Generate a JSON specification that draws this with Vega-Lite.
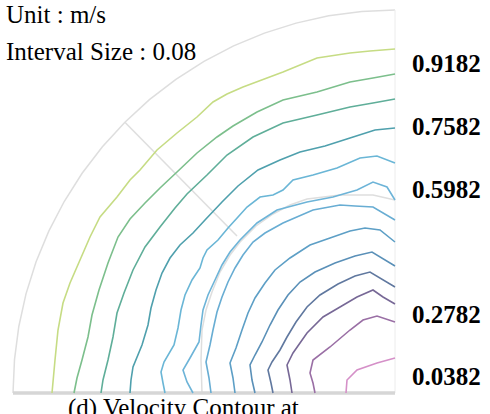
{
  "$schema": "https://vega.github.io/schema/vega-lite/v6.json",
  "width": 382,
  "height": 383,
  "autosize": "none",
  "padding": {"left": 13, "top": 10, "right": 95, "bottom": 21},
  "background": "white",
  "config": {"view": {"stroke": null}},
  "datasets": {
    "grid": [
      {"g":"outer","i":0,"x":13,"y":393},{"g":"outer","i":1,"x":14.5,"y":359.6},{"g":"outer","i":2,"x":18.8,"y":326.5},{"g":"outer","i":3,"x":26,"y":293.9},{"g":"outer","i":4,"x":36,"y":262},{"g":"outer","i":5,"x":48.8,"y":231.1},{"g":"outer","i":6,"x":64.2,"y":201.5},{"g":"outer","i":7,"x":82.1,"y":173.3},{"g":"outer","i":8,"x":102.4,"y":146.8},{"g":"outer","i":9,"x":124.9,"y":122.2},{"g":"outer","i":10,"x":149.4,"y":99.6},{"g":"outer","i":11,"x":175.9,"y":79.3},{"g":"outer","i":12,"x":204,"y":61.3},{"g":"outer","i":13,"x":233.6,"y":45.9},{"g":"outer","i":14,"x":264.4,"y":33.1},{"g":"outer","i":15,"x":296.1,"y":23.1},{"g":"outer","i":16,"x":328.7,"y":15.8},{"g":"outer","i":17,"x":361.7,"y":11.5},{"g":"outer","i":18,"x":395,"y":10},
      {"g":"inner","i":0,"x":202,"y":393},{"g":"inner","i":1,"x":201,"y":360},{"g":"inner","i":2,"x":202,"y":330},{"g":"inner","i":3,"x":206,"y":310},{"g":"inner","i":4,"x":212,"y":292},{"g":"inner","i":5,"x":220,"y":272},{"g":"inner","i":6,"x":230,"y":255},{"g":"inner","i":7,"x":240,"y":242},{"g":"inner","i":8,"x":256,"y":226},{"g":"inner","i":9,"x":273,"y":214},{"g":"inner","i":10,"x":290,"y":205},{"g":"inner","i":11,"x":307,"y":199},{"g":"inner","i":12,"x":340,"y":195},{"g":"inner","i":13,"x":373,"y":195},{"g":"inner","i":14,"x":395,"y":200},
      {"g":"diag","i":0,"x":124.9,"y":122.2},{"g":"diag","i":1,"x":237,"y":236}
    ],
    "edge": [
      {"g":"right","i":0,"x":395,"y":10},{"g":"right","i":1,"x":395,"y":393}
    ],
    "base": [
      {"g":"base","i":0,"x":13,"y":393},{"g":"base","i":1,"x":395,"y":393}
    ],
    "contours": [
      {"k":"0.9982","i":0,"x":395,"y":49},{"k":"0.9982","i":1,"x":370,"y":51},{"k":"0.9982","i":2,"x":350,"y":53},{"k":"0.9982","i":3,"x":317,"y":58},{"k":"0.9982","i":4,"x":283,"y":72},{"k":"0.9982","i":5,"x":243,"y":87},{"k":"0.9982","i":6,"x":227,"y":94},{"k":"0.9982","i":7,"x":213,"y":102},{"k":"0.9982","i":8,"x":197,"y":117},{"k":"0.9982","i":9,"x":177,"y":133},{"k":"0.9982","i":10,"x":157,"y":150},{"k":"0.9982","i":11,"x":140,"y":170},{"k":"0.9982","i":12,"x":130,"y":180},{"k":"0.9982","i":13,"x":117,"y":197},{"k":"0.9982","i":14,"x":100,"y":217},{"k":"0.9982","i":15,"x":90,"y":237},{"k":"0.9982","i":16,"x":80,"y":260},{"k":"0.9982","i":17,"x":70,"y":283},{"k":"0.9982","i":18,"x":63,"y":303},{"k":"0.9982","i":19,"x":58,"y":330},{"k":"0.9982","i":20,"x":55,"y":360},{"k":"0.9982","i":21,"x":52,"y":393},
      {"k":"0.9182","i":0,"x":395,"y":74},{"k":"0.9182","i":1,"x":373,"y":78},{"k":"0.9182","i":2,"x":350,"y":82},{"k":"0.9182","i":3,"x":317,"y":92},{"k":"0.9182","i":4,"x":283,"y":100},{"k":"0.9182","i":5,"x":257,"y":112},{"k":"0.9182","i":6,"x":233,"y":126},{"k":"0.9182","i":7,"x":217,"y":137},{"k":"0.9182","i":8,"x":197,"y":153},{"k":"0.9182","i":9,"x":177,"y":172},{"k":"0.9182","i":10,"x":160,"y":188},{"k":"0.9182","i":11,"x":145,"y":203},{"k":"0.9182","i":12,"x":130,"y":219},{"k":"0.9182","i":13,"x":118,"y":237},{"k":"0.9182","i":14,"x":108,"y":263},{"k":"0.9182","i":15,"x":99,"y":290},{"k":"0.9182","i":16,"x":92,"y":315},{"k":"0.9182","i":17,"x":88,"y":337},{"k":"0.9182","i":18,"x":82,"y":360},{"k":"0.9182","i":19,"x":77,"y":378},{"k":"0.9182","i":20,"x":74,"y":393},
      {"k":"0.8382","i":0,"x":395,"y":99},{"k":"0.8382","i":1,"x":373,"y":103},{"k":"0.8382","i":2,"x":350,"y":107},{"k":"0.8382","i":3,"x":317,"y":115},{"k":"0.8382","i":4,"x":283,"y":123},{"k":"0.8382","i":5,"x":253,"y":137},{"k":"0.8382","i":6,"x":227,"y":155},{"k":"0.8382","i":7,"x":207,"y":175},{"k":"0.8382","i":8,"x":187,"y":194},{"k":"0.8382","i":9,"x":175,"y":208},{"k":"0.8382","i":10,"x":160,"y":227},{"k":"0.8382","i":11,"x":145,"y":247},{"k":"0.8382","i":12,"x":133,"y":270},{"k":"0.8382","i":13,"x":124,"y":293},{"k":"0.8382","i":14,"x":117,"y":313},{"k":"0.8382","i":15,"x":113,"y":337},{"k":"0.8382","i":16,"x":108,"y":360},{"k":"0.8382","i":17,"x":103,"y":380},{"k":"0.8382","i":18,"x":101,"y":393},
      {"k":"0.7582","i":0,"x":395,"y":128},{"k":"0.7582","i":1,"x":375,"y":130},{"k":"0.7582","i":2,"x":350,"y":138},{"k":"0.7582","i":3,"x":325,"y":146},{"k":"0.7582","i":4,"x":300,"y":152},{"k":"0.7582","i":5,"x":280,"y":160},{"k":"0.7582","i":6,"x":258,"y":170},{"k":"0.7582","i":7,"x":238,"y":186},{"k":"0.7582","i":8,"x":222,"y":202},{"k":"0.7582","i":9,"x":205,"y":220},{"k":"0.7582","i":10,"x":193,"y":233},{"k":"0.7582","i":11,"x":180,"y":245},{"k":"0.7582","i":12,"x":170,"y":258},{"k":"0.7582","i":13,"x":162,"y":273},{"k":"0.7582","i":14,"x":156,"y":290},{"k":"0.7582","i":15,"x":151,"y":308},{"k":"0.7582","i":16,"x":148,"y":325},{"k":"0.7582","i":17,"x":142,"y":345},{"k":"0.7582","i":18,"x":133,"y":367},{"k":"0.7582","i":19,"x":131,"y":380},{"k":"0.7582","i":20,"x":130,"y":393},
      {"k":"0.6782","i":0,"x":395,"y":163},{"k":"0.6782","i":1,"x":377,"y":156},{"k":"0.6782","i":2,"x":360,"y":158},{"k":"0.6782","i":3,"x":337,"y":168},{"k":"0.6782","i":4,"x":313,"y":175},{"k":"0.6782","i":5,"x":293,"y":180},{"k":"0.6782","i":6,"x":283,"y":190},{"k":"0.6782","i":7,"x":273,"y":195},{"k":"0.6782","i":8,"x":260,"y":197},{"k":"0.6782","i":9,"x":247,"y":207},{"k":"0.6782","i":10,"x":238,"y":217},{"k":"0.6782","i":11,"x":228,"y":228},{"k":"0.6782","i":12,"x":218,"y":240},{"k":"0.6782","i":13,"x":207,"y":250},{"k":"0.6782","i":14,"x":203,"y":258},{"k":"0.6782","i":15,"x":200,"y":268},{"k":"0.6782","i":16,"x":192,"y":280},{"k":"0.6782","i":17,"x":185,"y":295},{"k":"0.6782","i":18,"x":181,"y":310},{"k":"0.6782","i":19,"x":178,"y":328},{"k":"0.6782","i":20,"x":174,"y":345},{"k":"0.6782","i":21,"x":164,"y":362},{"k":"0.6782","i":22,"x":161,"y":372},{"k":"0.6782","i":23,"x":163,"y":383},{"k":"0.6782","i":24,"x":165,"y":393},
      {"k":"0.5982","i":0,"x":395,"y":200},{"k":"0.5982","i":1,"x":387,"y":187},{"k":"0.5982","i":2,"x":373,"y":182},{"k":"0.5982","i":3,"x":357,"y":190},{"k":"0.5982","i":4,"x":333,"y":197},{"k":"0.5982","i":5,"x":307,"y":202},{"k":"0.5982","i":6,"x":277,"y":210},{"k":"0.5982","i":7,"x":257,"y":223},{"k":"0.5982","i":8,"x":240,"y":240},{"k":"0.5982","i":9,"x":230,"y":252},{"k":"0.5982","i":10,"x":222,"y":265},{"k":"0.5982","i":11,"x":215,"y":280},{"k":"0.5982","i":12,"x":208,"y":295},{"k":"0.5982","i":13,"x":203,"y":310},{"k":"0.5982","i":14,"x":201,"y":325},{"k":"0.5982","i":15,"x":199,"y":342},{"k":"0.5982","i":16,"x":190,"y":358},{"k":"0.5982","i":17,"x":183,"y":370},{"k":"0.5982","i":18,"x":187,"y":382},{"k":"0.5982","i":19,"x":193,"y":393},
      {"k":"0.5182","i":0,"x":395,"y":220},{"k":"0.5182","i":1,"x":373,"y":207},{"k":"0.5182","i":2,"x":355,"y":206},{"k":"0.5182","i":3,"x":340,"y":205},{"k":"0.5182","i":4,"x":313,"y":210},{"k":"0.5182","i":5,"x":283,"y":223},{"k":"0.5182","i":6,"x":265,"y":233},{"k":"0.5182","i":7,"x":253,"y":242},{"k":"0.5182","i":8,"x":243,"y":255},{"k":"0.5182","i":9,"x":235,"y":268},{"k":"0.5182","i":10,"x":228,"y":282},{"k":"0.5182","i":11,"x":222,"y":297},{"k":"0.5182","i":12,"x":217,"y":312},{"k":"0.5182","i":13,"x":213,"y":330},{"k":"0.5182","i":14,"x":210,"y":345},{"k":"0.5182","i":15,"x":206,"y":362},{"k":"0.5182","i":16,"x":209,"y":378},{"k":"0.5182","i":17,"x":211,"y":393},
      {"k":"0.4382","i":0,"x":395,"y":242},{"k":"0.4382","i":1,"x":380,"y":230},{"k":"0.4382","i":2,"x":365,"y":228},{"k":"0.4382","i":3,"x":350,"y":231},{"k":"0.4382","i":4,"x":330,"y":238},{"k":"0.4382","i":5,"x":310,"y":245},{"k":"0.4382","i":6,"x":290,"y":258},{"k":"0.4382","i":7,"x":275,"y":270},{"k":"0.4382","i":8,"x":265,"y":283},{"k":"0.4382","i":9,"x":255,"y":298},{"k":"0.4382","i":10,"x":248,"y":313},{"k":"0.4382","i":11,"x":242,"y":330},{"k":"0.4382","i":12,"x":236,"y":348},{"k":"0.4382","i":13,"x":230,"y":363},{"k":"0.4382","i":14,"x":233,"y":378},{"k":"0.4382","i":15,"x":235,"y":393},
      {"k":"0.3582","i":0,"x":395,"y":266},{"k":"0.3582","i":1,"x":372,"y":252},{"k":"0.3582","i":2,"x":355,"y":256},{"k":"0.3582","i":3,"x":335,"y":263},{"k":"0.3582","i":4,"x":315,"y":272},{"k":"0.3582","i":5,"x":300,"y":282},{"k":"0.3582","i":6,"x":288,"y":295},{"k":"0.3582","i":7,"x":278,"y":310},{"k":"0.3582","i":8,"x":270,"y":325},{"k":"0.3582","i":9,"x":262,"y":342},{"k":"0.3582","i":10,"x":255,"y":355},{"k":"0.3582","i":11,"x":250,"y":365},{"k":"0.3582","i":12,"x":252,"y":380},{"k":"0.3582","i":13,"x":255,"y":393},
      {"k":"0.2782","i":0,"x":395,"y":287},{"k":"0.2782","i":1,"x":370,"y":272},{"k":"0.2782","i":2,"x":355,"y":276},{"k":"0.2782","i":3,"x":338,"y":284},{"k":"0.2782","i":4,"x":320,"y":295},{"k":"0.2782","i":5,"x":307,"y":307},{"k":"0.2782","i":6,"x":296,"y":322},{"k":"0.2782","i":7,"x":287,"y":337},{"k":"0.2782","i":8,"x":280,"y":350},{"k":"0.2782","i":9,"x":272,"y":362},{"k":"0.2782","i":10,"x":268,"y":370},{"k":"0.2782","i":11,"x":271,"y":383},{"k":"0.2782","i":12,"x":273,"y":393},
      {"k":"0.1982","i":0,"x":395,"y":304},{"k":"0.1982","i":1,"x":383,"y":297},{"k":"0.1982","i":2,"x":373,"y":290},{"k":"0.1982","i":3,"x":357,"y":297},{"k":"0.1982","i":4,"x":340,"y":307},{"k":"0.1982","i":5,"x":323,"y":317},{"k":"0.1982","i":6,"x":307,"y":333},{"k":"0.1982","i":7,"x":293,"y":353},{"k":"0.1982","i":8,"x":287,"y":365},{"k":"0.1982","i":9,"x":290,"y":380},{"k":"0.1982","i":10,"x":292,"y":393},
      {"k":"0.1182","i":0,"x":395,"y":322},{"k":"0.1182","i":1,"x":377,"y":316},{"k":"0.1182","i":2,"x":363,"y":320},{"k":"0.1182","i":3,"x":350,"y":330},{"k":"0.1182","i":4,"x":330,"y":347},{"k":"0.1182","i":5,"x":313,"y":360},{"k":"0.1182","i":6,"x":310,"y":373},{"k":"0.1182","i":7,"x":313,"y":383},{"k":"0.1182","i":8,"x":315,"y":393},
      {"k":"0.0382","i":0,"x":395,"y":358},{"k":"0.0382","i":1,"x":377,"y":363},{"k":"0.0382","i":2,"x":357,"y":370},{"k":"0.0382","i":3,"x":347,"y":380},{"k":"0.0382","i":4,"x":346,"y":393}
    ],
    "labels": [
      {"t":"0.9182","x":412,"y":72},
      {"t":"0.7582","x":412,"y":135},
      {"t":"0.5982","x":412,"y":198},
      {"t":"0.2782","x":412,"y":323},
      {"t":"0.0382","x":412,"y":385}
    ],
    "notes": [
      {"t":"Unit : m/s","x":6,"y":23},
      {"t":"Interval Size : 0.08","x":6,"y":60}
    ],
    "caption": [
      {"t":"(d) Velocity Contour at","x":68,"y":416}
    ]
  },
  "layer": [
    {
      "data": {"name": "grid"},
      "mark": {"type": "line", "stroke": "#dedede", "strokeWidth": 1.5},
      "encoding": {
        "x": {"field": "x", "type": "quantitative", "scale": {"domain": [13, 395], "nice": false, "zero": false}, "axis": null},
        "y": {"field": "y", "type": "quantitative", "scale": {"domain": [393, 10], "nice": false, "zero": false}, "axis": null},
        "detail": {"field": "g"},
        "order": {"field": "i", "type": "quantitative"}
      }
    },
    {
      "data": {"name": "edge"},
      "mark": {"type": "line", "stroke": "#ececec", "strokeWidth": 1},
      "encoding": {
        "x": {"field": "x", "type": "quantitative", "scale": {"domain": [13, 395], "nice": false, "zero": false}, "axis": null},
        "y": {"field": "y", "type": "quantitative", "scale": {"domain": [393, 10], "nice": false, "zero": false}, "axis": null},
        "order": {"field": "i", "type": "quantitative"}
      }
    },
    {
      "data": {"name": "base"},
      "mark": {"type": "line", "stroke": "#d6d6d6", "strokeWidth": 3.5},
      "encoding": {
        "x": {"field": "x", "type": "quantitative", "scale": {"domain": [13, 395], "nice": false, "zero": false}, "axis": null},
        "y": {"field": "y", "type": "quantitative", "scale": {"domain": [393, 10], "nice": false, "zero": false}, "axis": null},
        "order": {"field": "i", "type": "quantitative"}
      }
    },
    {
      "data": {"name": "contours"},
      "mark": {"type": "line", "strokeWidth": 1.6},
      "encoding": {
        "x": {"field": "x", "type": "quantitative", "scale": {"domain": [13, 395], "nice": false, "zero": false}, "axis": null},
        "y": {"field": "y", "type": "quantitative", "scale": {"domain": [393, 10], "nice": false, "zero": false}, "axis": null},
        "color": {
          "field": "k", "type": "nominal", "legend": null,
          "scale": {
            "domain": ["0.9982","0.9182","0.8382","0.7582","0.6782","0.5982","0.5182","0.4382","0.3582","0.2782","0.1982","0.1182","0.0382"],
            "range": ["#c6dc84","#7cbf8c","#5fae99","#4fa0ad","#6ab6d6","#6db4d8","#68add3","#5d9fc6","#5a90b8","#60789f","#776896","#9a6fa5","#d590c8"]
          }
        },
        "order": {"field": "i", "type": "quantitative"}
      }
    },
    {
      "data": {"name": "labels"},
      "mark": {"type": "text", "align": "left", "baseline": "alphabetic", "font": "Liberation Serif", "fontWeight": "bold", "fontSize": 25, "color": "#000000"},
      "encoding": {
        "x": {"field": "x", "type": "quantitative", "scale": {"domain": [13, 395], "nice": false, "zero": false}, "axis": null},
        "y": {"field": "y", "type": "quantitative", "scale": {"domain": [393, 10], "nice": false, "zero": false}, "axis": null},
        "text": {"field": "t"}
      }
    },
    {
      "data": {"name": "notes"},
      "mark": {"type": "text", "align": "left", "baseline": "alphabetic", "font": "Liberation Serif", "fontSize": 25, "color": "#000000"},
      "encoding": {
        "x": {"field": "x", "type": "quantitative", "scale": {"domain": [13, 395], "nice": false, "zero": false}, "axis": null},
        "y": {"field": "y", "type": "quantitative", "scale": {"domain": [393, 10], "nice": false, "zero": false}, "axis": null},
        "text": {"field": "t"}
      }
    },
    {
      "data": {"name": "caption"},
      "mark": {"type": "text", "align": "left", "baseline": "alphabetic", "font": "Liberation Serif", "fontSize": 25, "color": "#000000"},
      "encoding": {
        "x": {"field": "x", "type": "quantitative", "scale": {"domain": [13, 395], "nice": false, "zero": false}, "axis": null},
        "y": {"field": "y", "type": "quantitative", "scale": {"domain": [393, 10], "nice": false, "zero": false}, "axis": null},
        "text": {"field": "t"}
      }
    }
  ]
}
